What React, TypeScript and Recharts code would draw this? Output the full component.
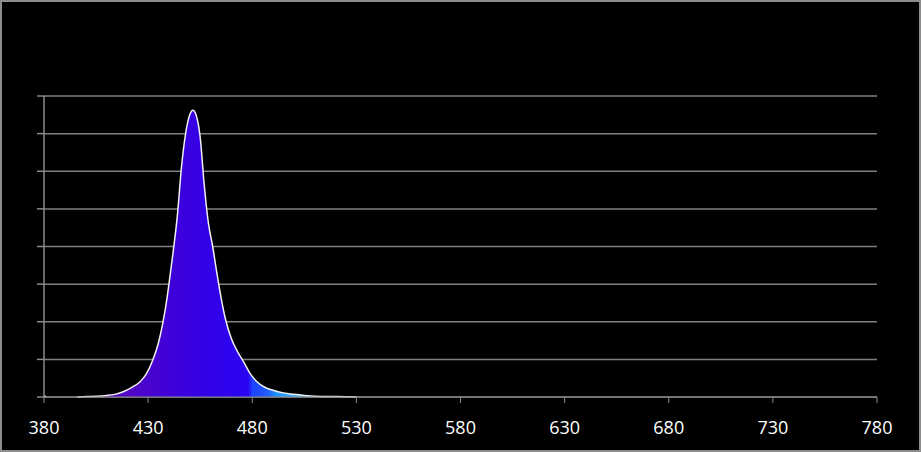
import React from 'react';
import { AreaChart, Area, XAxis, YAxis, CartesianGrid } from 'recharts';

// wavelength (nm) and relative intensity
const wavelengths = [380, 381, 382, 396, 400, 405, 410, 414, 418, 422, 426, 429, 432, 435, 437, 439, 440, 442, 444, 446, 448, 450, 451.5, 453, 455, 457, 459, 461, 463, 465, 467, 470, 473, 476, 479, 482, 486, 490, 495, 500, 505, 510, 520, 530];
const intensity = [0.03, 0.01, null, 0, 0.01, 0.02, 0.04, 0.07, 0.14, 0.25, 0.4, 0.6, 0.95, 1.45, 1.95, 2.6, 3.0, 3.85, 4.8, 6.1, 7.0, 7.5, 7.62, 7.5, 6.9, 5.6, 4.6, 4.0, 3.3, 2.65, 2.1, 1.55, 1.2, 0.92, 0.62, 0.42, 0.26, 0.18, 0.11, 0.07, 0.04, 0.02, 0.01, 0];

const xTicks = [380, 430, 480, 530, 580, 630, 680, 730, 780];
const yTicks = [0, 1, 2, 3, 4, 5, 6, 7, 8];

// spectrum colours by wavelength for the fill
const spectrum: [number, string][] = [
  [380, '#5a10b4'],
  [420, '#5208c4'],
  [440, '#4000d8'],
  [455, '#3400e6'],
  [478, '#2a04f2'],
  [480, '#1e40ff'],
  [488, '#2060ff'],
  [491, '#2090f8'],
  [500, '#40aaf0'],
  [530, '#70c8e8'],
];

const data = wavelengths.map((w, i) => ({ nm: w, value: intensity[i] }));

const minNm = wavelengths[0];
const maxNm = wavelengths[wavelengths.length - 1];

export default function App() {
  return (
    <div style={styles.frame}>
      <style>{'body{margin:0;background:#000}'}</style>
      <AreaChart width={917} height={448} data={data} margin={{ top: 94, right: 42, left: 41, bottom: 0 }}>
        <defs>
          <linearGradient id="spec" x1="0" y1="0" x2="1" y2="0">
            {spectrum.map(([w, c]) => (
              <stop key={w} offset={(w - minNm) / (maxNm - minNm)} stopColor={c} />
            ))}
          </linearGradient>
        </defs>
        <CartesianGrid vertical={false} stroke="#808080" strokeWidth={1.5} />
        <XAxis
          dataKey="nm"
          type="number"
          domain={[380, 780]}
          ticks={xTicks}
          height={53}
          stroke="#8a8a8a"
          tickSize={6}
          tickMargin={18}
          tick={{ fill: '#fff', fontSize: 18, fontFamily: 'Open Sans' }}
          interval={0}
        />
        <YAxis
          domain={[0, 8]}
          ticks={yTicks}
          width={1}
          stroke="#8a8a8a"
          strokeWidth={1.5}
          tickSize={7}
          tickFormatter={() => ''}
        />
        <Area
          type="monotone"
          dataKey="value"
          stroke="#f0f0f0"
          strokeWidth={1.5}
          fill="url(#spec)"
          fillOpacity={1}
          isAnimationActive={false}
        />
      </AreaChart>
    </div>
  );
}

const styles: Record<string, React.CSSProperties> = {
  frame: {
    width: 921,
    height: 452,
    boxSizing: 'border-box',
    border: '2px solid #8c8c8c',
    background: '#000',
  },
};
